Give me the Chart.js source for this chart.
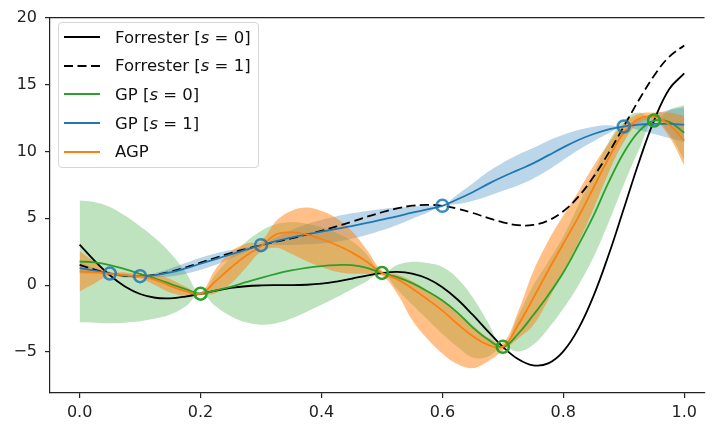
<!DOCTYPE html>
<html>
<head>
<meta charset="utf-8">
<script src="https://cdn.jsdelivr.net/npm/chart.js@4/dist/chart.umd.min.js"></script>
<style>
  body { margin: 0; background: #fff; }
  #wrap { position: relative; width: 713px; height: 426px; }
  #legend {
    position: absolute; left: 58px; top: 22px; width: 199px; height: 144px;
    border: 1px solid #d6d6d6; border-radius: 4px; background: rgba(255,255,255,0.8);
    font: 16.5px 'DejaVu Sans', sans-serif; color: #111;
  }
  #legend .row { height: 28.6px; display: flex; align-items: center; }
  #legend svg { margin-left: 5px; margin-right: 15px; }
</style>
</head>
<body>
<div id="wrap">
  <canvas id="c" width="713" height="426"></canvas>
  <div id="legend"></div>
</div>
<script>
// x grid of the curves
var xs = [0, 0.025, 0.05, 0.075, 0.1, 0.125, 0.15, 0.175, 0.2, 0.225, 0.25, 0.275, 0.3, 0.325, 0.35, 0.375, 0.4, 0.425, 0.45, 0.475,
          0.5, 0.525, 0.55, 0.575, 0.6, 0.625, 0.65, 0.675, 0.7, 0.725, 0.75, 0.775, 0.8, 0.825, 0.85, 0.875, 0.9, 0.925, 0.95, 0.975, 1.0];

// Forrester, high fidelity (s=0) and low fidelity (s=1)
var hf = [3.03, 1.81, 0.74, -0.10, -0.66, -0.94, -0.98, -0.85, -0.64, -0.41, -0.21, -0.08, -0.02, 0.00, 0.00, 0.03, 0.11, 0.27, 0.48, 0.72,
          0.91, 0.99, 0.87, 0.50, -0.15, -1.07, -2.21, -3.44, -4.61, -5.52, -5.99, -5.85, -4.95, -3.25, -0.80, 2.27, 5.71, 9.19, 12.30, 14.65, 15.83];
var lf = [1.51, 1.16, 0.87, 0.70, 0.67, 0.78, 1.01, 1.32, 1.68, 2.05, 2.40, 2.71, 2.99, 3.25, 3.50, 3.77, 4.06, 4.39, 4.74, 5.11,
          5.45, 5.74, 5.94, 6.00, 5.93, 5.71, 5.40, 5.03, 4.70, 4.49, 4.50, 4.83, 5.53, 6.62, 8.10, 9.89, 11.86, 13.84, 15.65, 17.07, 17.92];

// GP [s=0]: mean and band half-width
var gp0Mean = [1.77, 1.70, 1.50, 1.20, 0.85, 0.50, 0.10, -0.30, -0.64, -0.38, -0.12, 0.22, 0.55, 0.85, 1.10, 1.30, 1.43, 1.50, 1.50, 1.30,
               0.91, 0.60, 0.15, -0.45, -1.15, -2.05, -3.15, -4.05, -4.61, -3.65, -2.25, -0.75, 0.95, 3.00, 5.20, 7.70, 9.90, 11.50, 12.30, 12.20, 11.40];
var gp0Band = [4.55, 4.50, 4.35, 4.00, 3.55, 3.00, 2.30, 1.30, 0, 1.20, 2.20, 3.00, 3.50, 3.70, 3.60, 3.30, 2.90, 2.40, 1.80, 1.00,
               0, 0.90, 1.60, 2.10, 2.50, 2.55, 2.25, 1.30, 0, 1.30, 2.20, 2.50, 2.70, 3.00, 3.10, 3.00, 2.40, 1.40, 0, 0.90, 2.05];

// GP [s=1]
var gp1Mean = [1.28, 1.08, 0.87, 0.72, 0.67, 0.75, 0.95, 1.25, 1.60, 1.95, 2.30, 2.65, 2.99, 3.30, 3.55, 3.80, 4.00, 4.20, 4.42, 4.65,
               4.90, 5.15, 5.42, 5.66, 5.93, 6.42, 6.95, 7.55, 8.10, 8.60, 9.10, 9.70, 10.30, 10.85, 11.30, 11.65, 11.86, 12.00, 12.05, 12.05, 12.00];
var gp1Band = [0.40, 0.20, 0, 0.08, 0, 0.15, 0.30, 0.40, 0.45, 0.42, 0.32, 0.18, 0, 0.30, 0.55, 0.75, 0.88, 0.95, 0.95, 0.90,
               0.80, 0.65, 0.45, 0.25, 0, 0.35, 0.65, 0.90, 1.05, 1.15, 1.15, 1.10, 0.95, 0.75, 0.55, 0.30, 0, 0.40, 0.75, 1.05, 1.30];

// AGP: mean and band edges
var agpMean = [1.03, 0.95, 0.85, 0.75, 0.65, 0.40, -0.05, -0.45, -0.64, 0.30, 1.30, 2.20, 2.90, 3.80, 3.95, 3.80, 3.45, 3.00, 2.45, 1.75,
               0.91, 0.45, -0.25, -1.05, -1.90, -2.90, -3.80, -4.45, -4.60, -3.00, -1.00, 1.10, 3.10, 5.10, 7.30, 9.50, 11.40, 12.45, 12.60, 12.00, 10.80];
var agpLo = [-0.47, 0.15, 0.70, 0.55, 0.50, 0.00, -0.55, -0.80, -0.74, -0.60, 0.10, 1.30, 2.50, 2.80, 2.35, 1.80, 1.35, 1.00, 0.85, 0.85,
             0.71, -0.60, -2.60, -4.00, -5.10, -5.90, -6.20, -5.70, -4.90, -4.00, -3.00, -1.10, 1.00, 3.20, 5.70, 8.40, 10.70, 12.10, 12.30, 11.10, 8.95];
var agpHi = [2.53, 1.75, 1.00, 0.95, 0.80, 0.80, 0.45, -0.10, -0.54, 1.20, 2.50, 3.10, 3.30, 4.80, 5.55, 5.80, 5.55, 5.00, 4.05, 2.65,
             1.11, 0.80, 0.30, -0.40, -1.10, -2.00, -3.00, -3.90, -4.30, -2.00, 1.00, 3.30, 5.20, 7.00, 8.90, 10.60, 12.10, 12.80, 12.90, 12.90, 12.65];

// observed samples
var hfX = [0.2, 0.5, 0.7, 0.95];
var hfY = [-0.64, 0.91, -4.61, 12.30];
var lfX = [0.05, 0.1, 0.3, 0.6, 0.9];
var lfY = [0.87, 0.67, 2.99, 5.93, 11.86];

var xTicks = [0, 0.2, 0.4, 0.6, 0.8, 1.0];
var yTicks = [-5, 0, 5, 10, 15, 20];

var legendItems = [
  { label: 'Forrester [<i>s</i> = 0]', color: '#000', dash: '' },
  { label: 'Forrester [<i>s</i> = 1]', color: '#000', dash: '9,4.5' },
  { label: 'GP [<i>s</i> = 0]', color: '#2ca02c', dash: '' },
  { label: 'GP [<i>s</i> = 1]', color: '#1f77b4', dash: '' },
  { label: 'AGP', color: '#ff7f0e', dash: '' }
];

var GREEN = '#2ca02c', BLUE = '#1f77b4', ORANGE = '#ff7f0e';
var TENSION = 0.4;

function pts(xv, yv) { return xv.map(function(x, i) { return { x: x, y: yv[i] }; }); }
function edge(mean, band, sgn) { return xs.map(function(x, i) { return { x: x, y: mean[i] + sgn * band[i] }; }); }

function line(data, color, order, dash) {
  return { data: data, borderColor: color, borderWidth: 1.8, borderDash: dash || [], pointRadius: 0,
           fill: false, tension: TENSION, order: order };
}
function bandPair(hi, lo, fillColor, order) {
  return [
    { data: hi, borderWidth: 0, pointRadius: 0, fill: '+1', backgroundColor: fillColor, tension: TENSION, order: order },
    { data: lo, borderWidth: 0, pointRadius: 0, fill: false, tension: TENSION, order: order }
  ];
}
function markers(data, color, order) {
  return { data: data, showLine: false, pointRadius: 6, pointBorderWidth: 2.5, pointBorderColor: color,
           pointBackgroundColor: 'rgba(0,0,0,0)', order: order };
}

var datasets = []
  .concat(bandPair(edge(gp0Mean, gp0Band, 1), edge(gp0Mean, gp0Band, -1), 'rgba(44,160,44,0.3)', 10))
  .concat(bandPair(edge(gp1Mean, gp1Band, 1), edge(gp1Mean, gp1Band, -1), 'rgba(31,119,180,0.3)', 9))
  .concat(bandPair(pts(xs, agpHi), pts(xs, agpLo), 'rgba(255,127,14,0.5)', 8))
  .concat([
    line(pts(xs, hf), '#000', 7),
    line(pts(xs, lf), '#000', 6, [9, 4.5]),
    line(pts(xs, gp0Mean), GREEN, 5),
    line(pts(xs, gp1Mean), BLUE, 4),
    line(pts(xs, agpMean), ORANGE, 3),
    markers(pts(hfX, hfY), GREEN, 2),
    markers(pts(lfX, lfY), 'rgba(31,119,180,0.85)', 1)
  ]);

// top spine
var topSpine = {
  id: 'topSpine',
  afterDraw: function(chart) {
    var a = chart.chartArea, ctx = chart.ctx;
    ctx.save();
    ctx.strokeStyle = '#222';
    ctx.lineWidth = 1.2;
    ctx.beginPath();
    ctx.moveTo(a.left, a.top);
    ctx.lineTo(a.right, a.top);
    ctx.stroke();
    ctx.restore();
  }
};

var tickFont = { family: 'DejaVu Sans', size: 16 };

new Chart(document.getElementById('c'), {
  type: 'line',
  data: { datasets: datasets },
  options: {
    responsive: false,
    animation: false,
    devicePixelRatio: 1,
    layout: { padding: { top: 13, right: 0, left: 0, bottom: 0 } },
    plugins: { legend: { display: false }, tooltip: { enabled: false } },
    scales: {
      x: {
        type: 'linear', min: -0.049, max: 1.0335,
        afterFit: function(s) { s.height = 33; },
        afterBuildTicks: function(s) { s.ticks = xTicks.map(function(v) { return { value: v }; }); },
        grid: { drawOnChartArea: false, tickLength: 5, color: '#222', lineWidth: 1.2 },
        border: { color: '#222', width: 1.2 },
        ticks: { font: tickFont, color: '#222', padding: 5, maxRotation: 0,
                 callback: function(v) { return v.toFixed(1); } }
      },
      y: {
        type: 'linear', min: -8.06, max: 20,
        afterFit: function(s) { s.width = 50; },
        afterBuildTicks: function(s) { s.ticks = yTicks.map(function(v) { return { value: v }; }); },
        grid: { drawOnChartArea: false, tickLength: 5, color: '#222', lineWidth: 1.2 },
        border: { color: '#222', width: 1.2 },
        ticks: { font: tickFont, color: '#222', padding: 8,
                 callback: function(v) { return v < 0 ? '\u2212' + Math.abs(v) : String(v); } }
      }
    }
  },
  plugins: [topSpine]
});

// legend box
var html = '';
legendItems.forEach(function(it) {
  html += '<div class="row"><svg width="36" height="6"><line x1="0" y1="3" x2="36" y2="3" stroke="' + it.color +
    '" stroke-width="2"' + (it.dash ? ' stroke-dasharray="' + it.dash + '"' : '') + '/></svg><span>' + it.label + '</span></div>';
});
document.getElementById('legend').innerHTML = html;
</script>
</body>
</html>
